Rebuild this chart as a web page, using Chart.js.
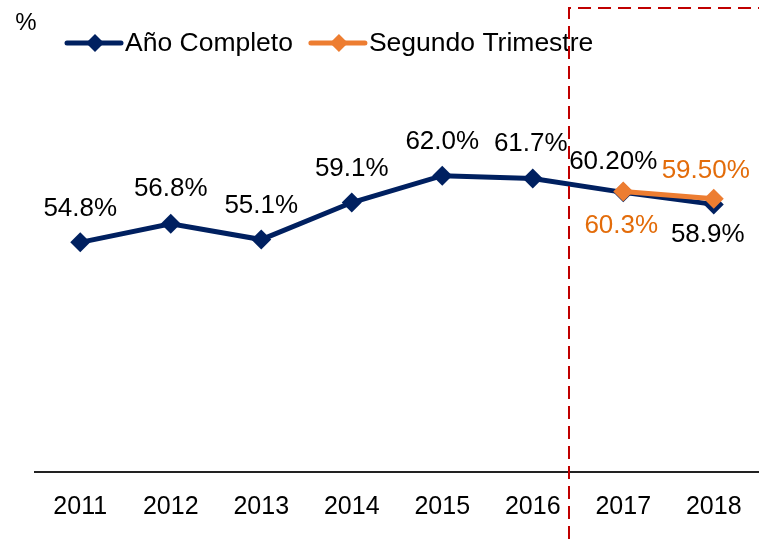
<!DOCTYPE html>
<html>
<head>
<meta charset="utf-8">
<script src="https://cdn.jsdelivr.net/npm/chart.js@4/dist/chart.umd.min.js"></script>
<style>
  html, body { margin: 0; padding: 0; background: #fff; overflow: hidden; }
  #wrap { width: 759px; height: 539px; }
</style>
</head>
<body>
<div id="wrap"><canvas id="myChart"></canvas></div>
<script>
const years = ['2011', '2012', '2013', '2014', '2015', '2016', '2017', '2018'];
const anioCompleto = [54.8, 56.8, 55.1, 59.1, 62.0, 61.7, 60.2, 58.9];
const anioLabels = ['54.8%', '56.8%', '55.1%', '59.1%', '62.0%', '61.7%', '60.20%', '58.9%'];
const segundoTrimestre = [null, null, null, null, null, null, 60.3, 59.5];
const segundoLabels = ['', '', '', '', '', '', '60.3%', '59.50%'];

const NAVY = '#002060';
const ORANGE = '#ED7D31';
const ORANGE_TEXT = '#E36C0A';
const FONT = '"Liberation Sans", Arial, sans-serif';

// label offsets relative to the point (dx, dy)
const anioOffsets = [[0, -34], [0, -35], [0, -34], [0, -34], [0, -34], [-2, -35], [-10, -31], [-6, 30]];
const segundoOffsets = [null, null, null, null, null, null, [-2, 34], [-8, -28]];

const decorPlugin = {
  id: 'decor',
  afterDatasetsDraw(chart) {
    const ctx = chart.ctx;
    const x = chart.scales.x;
    ctx.save();

    // data labels
    ctx.font = '26px ' + FONT;
    ctx.textAlign = 'center';
    ctx.textBaseline = 'middle';
    const sets = [[0, anioLabels, anioOffsets, '#000'], [1, segundoLabels, segundoOffsets, ORANGE_TEXT]];
    sets.forEach(([di, labels, offs, color]) => {
      const meta = chart.getDatasetMeta(di);
      meta.data.forEach((pt, i) => {
        if (!labels[i] || !offs[i]) return;
        ctx.fillStyle = color;
        ctx.fillText(labels[i], pt.x + offs[i][0], pt.y + offs[i][1]);
      });
    });

    // unit
    ctx.fillStyle = '#000';
    ctx.font = '24px ' + FONT;
    ctx.fillText('%', 26, 23);

    // legend
    let lx = 67;
    const ly = 43;
    ctx.font = '26.5px ' + FONT;
    chart.data.datasets.forEach((ds) => {
      ctx.strokeStyle = ds.borderColor;
      ctx.lineWidth = 5;
      ctx.lineCap = 'round';
      ctx.beginPath();
      ctx.moveTo(lx, ly);
      ctx.lineTo(lx + 54, ly);
      ctx.stroke();
      const cx = lx + 28;
      ctx.fillStyle = ds.borderColor;
      ctx.beginPath();
      ctx.moveTo(cx, ly - 9);
      ctx.lineTo(cx + 9, ly);
      ctx.lineTo(cx, ly + 9);
      ctx.lineTo(cx - 9, ly);
      ctx.closePath();
      ctx.fill();
      ctx.fillStyle = '#000';
      ctx.textAlign = 'left';
      ctx.fillText(ds.label, lx + 58, ly + 1);
      lx += 58 + ctx.measureText(ds.label).width + 18;
    });

    // red dashed box marking the partial-year period
    const step = x.getPixelForValue(6) - x.getPixelForValue(5);
    const bx = Math.round(x.getPixelForValue(5) + step * 0.4);
    ctx.strokeStyle = '#C00000';
    ctx.lineWidth = 2;
    ctx.lineCap = 'butt';
    ctx.setLineDash([13, 7]);
    ctx.beginPath();
    ctx.moveTo(bx, chart.height);
    ctx.lineTo(bx, 8);
    ctx.lineTo(chart.width, 8);
    ctx.stroke();
    ctx.restore();
  }
};

new Chart(document.getElementById('myChart'), {
  type: 'line',
  data: {
    labels: years,
    datasets: [
      {
        label: 'Año Completo',
        data: anioCompleto,
        borderColor: NAVY,
        backgroundColor: NAVY,
        borderWidth: 5,
        pointStyle: 'rectRot',
        pointRadius: 10,
        pointHoverRadius: 10,
        pointBorderWidth: 0,
        tension: 0,
        order: 2,
      },
      {
        label: 'Segundo Trimestre',
        data: segundoTrimestre,
        borderColor: ORANGE,
        backgroundColor: ORANGE,
        borderWidth: 5,
        pointStyle: 'rectRot',
        pointRadius: 10,
        pointHoverRadius: 10,
        pointBorderWidth: 0,
        tension: 0,
        order: 1,
      },
    ],
  },
  options: {
    responsive: true,
    maintainAspectRatio: false,
    animation: false,
    layout: { autoPadding: false, padding: { left: 35, right: 0, top: 9, bottom: 5 } },
    plugins: {
      legend: { display: false },
      tooltip: { enabled: false },
    },
    scales: {
      x: {
        offset: true,
        grid: { display: false },
        border: { display: true, color: '#222', width: 2 },
        ticks: { color: '#000', font: { family: FONT, size: 25 }, padding: 12 },
      },
      y: {
        display: false,
        min: 30,
        max: 80,
      },
    },
  },
  plugins: [decorPlugin],
});
</script>
</body>
</html>
